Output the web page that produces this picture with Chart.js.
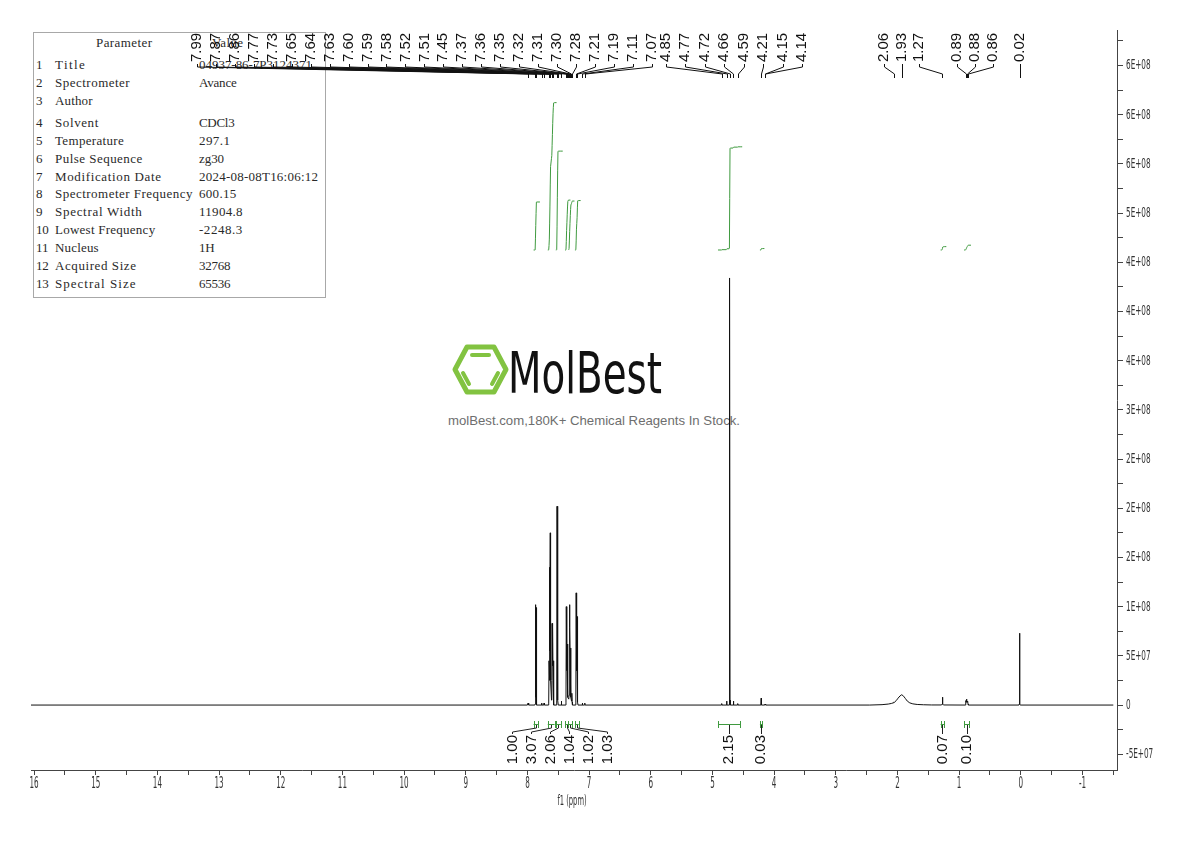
<!DOCTYPE html>
<html>
<head>
<meta charset="utf-8">
<title>1H NMR spectrum</title>
<script src="https://cdn.jsdelivr.net/npm/chart.js@4/dist/chart.umd.min.js"></script>
<style>
html,body{margin:0;padding:0;background:#ffffff;}
#wrap{position:relative;width:1190px;height:841px;overflow:hidden;background:#fff;}
#tbl{position:absolute;left:33px;top:32px;width:293px;height:266px;border:1px solid #a8a8a8;box-sizing:border-box;}
.t{position:absolute;font-family:'Liberation Serif','DejaVu Serif',serif;font-size:13px;line-height:14px;color:#2a2a2a;white-space:pre;}
#logo{position:absolute;left:0;top:0;}
#brand{position:absolute;left:508px;top:345px;font-family:'DejaVu Sans Condensed','DejaVu Sans',sans-serif;font-size:57px;line-height:57px;color:#111;white-space:nowrap;transform-origin:0 0;}
#slogan{position:absolute;left:448px;top:413px;font-family:'Liberation Sans',Arial,sans-serif;font-size:13px;line-height:16px;color:#6e6e6e;white-space:nowrap;transform-origin:0 0;}
#c{position:absolute;left:0;top:0;}
</style>
</head>
<body>
<div id="wrap">
  <div id="tbl"></div>
  <svg id="logo" width="1190" height="841">
    <polygon points="467,347 494,347 506,369.5 494,392 467,392 455,369.5" fill="none" stroke="#82c341" stroke-width="5" stroke-linejoin="round"/>
    <line x1="472" y1="355" x2="489" y2="355" stroke="#82c341" stroke-width="4" stroke-linecap="round"/>
    <line x1="463" y1="373" x2="469" y2="384" stroke="#82c341" stroke-width="4" stroke-linecap="round"/>
    <line x1="498" y1="373" x2="492" y2="384" stroke="#82c341" stroke-width="4" stroke-linecap="round"/>
  </svg>
  <div id="brand">MolBest</div>
  <div id="slogan">molBest.com,180K+ Chemical Reagents In Stock.</div>
  <canvas id="c" width="1190" height="841"></canvas>
</div>
<script>
// ---------------- DATA ----------------
// Parameter table
const paramNames = ['Title','Spectrometer','Author','Solvent','Temperature','Pulse Sequence','Modification Date','Spectrometer Frequency','Spectral Width','Lowest Frequency','Nucleus','Acquired Size','Spectral Size'];
const paramValues = ['04937-86-7P3124371','Avance','','CDCl3','297.1','zg30','2024-08-08T16:06:12','600.15','11904.8','-2248.3','1H','32768','65536'];

// Spectrum (chemical shift in ppm, intensity)
const specPpm = [
  16.05, 8.00, 7.99, 7.98,
  7.88, 7.875, 7.87, 7.865, 7.86, 7.855, 7.85,
  7.775, 7.77, 7.765,
  7.735, 7.73, 7.725,
  7.66, 7.655, 7.65, 7.645, 7.64, 7.635, 7.63, 7.625, 7.61, 7.605, 7.60, 7.595, 7.59, 7.585, 7.58, 7.575, 7.57,
  7.53, 7.525, 7.52, 7.515, 7.51, 7.505, 7.50,
  7.455, 7.45, 7.445,
  7.38, 7.375, 7.37, 7.365, 7.36, 7.355, 7.35, 7.345, 7.33, 7.325, 7.32, 7.315, 7.31, 7.305, 7.30, 7.295, 7.285, 7.28, 7.275, 7.27,
  7.22, 7.215, 7.21, 7.205, 7.20, 7.195, 7.19, 7.185, 7.18,
  7.115, 7.11, 7.105, 7.075, 7.07, 7.065,
  4.855, 4.85, 4.845, 4.775, 4.77, 4.765, 4.73, 4.725, 4.72, 4.715, 4.71, 4.665, 4.66, 4.655, 4.595, 4.59, 4.585,
  4.215, 4.21, 4.205, 4.155, 4.15, 4.145, 4.14, 4.135,
  2.45, 2.25, 2.15, 2.10, 2.07, 2.06, 2.05, 2.02, 1.99, 1.96, 1.93, 1.90, 1.87, 1.84, 1.80, 1.75, 1.68, 1.58, 1.45,
  1.285, 1.275, 1.27, 1.265, 1.255,
  0.90, 0.895, 0.89, 0.885, 0.88, 0.875, 0.87, 0.865, 0.86, 0.855, 0.85,
  0.03, 0.025, 0.02, 0.015, 0.01,
  -1.50
];
const specIntensity = [
  0, 0, 0.02e8, 0,
  0, 0.01e8, 1.02e8, 0.08e8, 0.99e8, 0.01e8, 0,
  0, 0.02e8, 0,
  0, 0.02e8, 0,
  0, 0.02e8, 0.45e8, 0.25e8, 1.40e8, 0.55e8, 1.75e8, 0.25e8, 0.05e8, 0.25e8, 0.83e8, 0.40e8, 0.80e8, 0.25e8, 0.45e8, 0.03e8, 0,
  0, 0.05e8, 2.02e8, 0.70e8, 1.71e8, 0.05e8, 0,
  0, 0.04e8, 0,
  0, 0.03e8, 1.00e8, 0.35e8, 0.64e8, 0.35e8, 0.62e8, 0.08e8, 0.06e8, 0.10e8, 1.02e8, 0.40e8, 0.79e8, 0.35e8, 0.58e8, 0.08e8, 0.04e8, 0.12e8, 0.03e8, 0,
  0, 0.03e8, 1.14e8, 0.40e8, 0.35e8, 0.40e8, 0.90e8, 0.03e8, 0,
  0, 0.02e8, 0, 0, 0.02e8, 0,
  0, 0.015e8, 0, 0, 0.04e8, 0, 0, 0.05e8, 4.34e8, 0.05e8, 0, 0, 0.04e8, 0, 0, 0.015e8, 0,
  0, 0.07e8, 0, 0, 0.01e8, 0.005e8, 0.01e8, 0,
  0, 0.004e8, 0.01e8, 0.016e8, 0.022e8, 0.03e8, 0.028e8, 0.045e8, 0.07e8, 0.092e8, 0.105e8, 0.09e8, 0.065e8, 0.04e8, 0.022e8, 0.012e8, 0.006e8, 0.003e8, 0.001e8,
  0.001e8, 0.01e8, 0.08e8, 0.01e8, 0.001e8,
  0, 0.01e8, 0.045e8, 0.03e8, 0.06e8, 0.03e8, 0.03e8, 0.03e8, 0.04e8, 0.01e8, 0,
  0, 0.01e8, 0.73e8, 0.01e8, 0,
  0
];

// Peak picking labels (ppm)
const peakLabels = [7.99, 7.87, 7.86, 7.77, 7.73, 7.65, 7.64, 7.63, 7.60, 7.59, 7.58, 7.52, 7.51, 7.45, 7.37, 7.36, 7.35, 7.32, 7.31, 7.30, 7.28, 7.21, 7.19, 7.11, 7.07,
                    4.85, 4.77, 4.72, 4.66, 4.59, 4.21, 4.15, 4.14,
                    2.06, 1.93, 1.27,
                    0.89, 0.88, 0.86,
                    0.02];

// Integrals: region start / end (ppm) and value
const intFrom   = [7.90, 7.67, 7.54, 7.39, 7.335, 7.23, 4.91, 4.23, 1.30, 0.92];
const intTo     = [7.83, 7.56, 7.46, 7.335, 7.27, 7.17, 4.55, 4.19, 1.24, 0.84];
const intValues = [1.00, 3.07, 2.06, 1.04, 1.02, 1.03, 2.15, 0.03, 0.07, 0.10];

// Axis ticks
const xTickLabels = ['16','15','14','13','12','11','10','9','8','7','6','5','4','3','2','1','0','-1'];
const xTickValues = [16,15,14,13,12,11,10,9,8,7,6,5,4,3,2,1,0,-1];
const yTickValues = [-0.5e8, 0, 0.5e8, 1.0e8, 1.5e8, 2.0e8, 2.5e8, 3.0e8, 3.5e8, 4.0e8, 4.5e8, 5.0e8, 5.5e8, 6.0e8, 6.5e8];
const yTickLabels = ['-5E+07','0','5E+07','1E+08','2E+08','2E+08','2E+08','3E+08','4E+08','4E+08','4E+08','5E+08','6E+08','6E+08','6E+08'];
const xAxisTitle = 'f1 (ppm)';

// ---------------- LAYOUT / STYLE ----------------
const X_MIN = -1.56, X_MAX = 16.05;
const Y_MIN = -0.66e8, Y_MAX = 6.86e8;
const INT_MIN = -10.8333, INT_MAX = 4.5833;   // hidden integral axis
const AXIS_FONT = "'DejaVu Sans','Liberation Sans',sans-serif";
const SANS = "'Liberation Sans',Arial,sans-serif";
const GREEN = '#3f9a3f';
const peakGroups = [
  {first:0,  last:24, anchor:24, shift:67, gap:18.95},
  {first:25, last:32, anchor:30, shift:2,  gap:19.5},
  {first:33, last:35, anchor:34, shift:0,  gap:17.5},
  {first:36, last:38, anchor:37, shift:8,  gap:18},
  {first:39, last:39, anchor:39, shift:0,  gap:0}
];

// ---------------- TABLE ----------------
(function buildTable(){
  const wrap = document.getElementById('wrap');
  const mc = document.createElement('canvas').getContext('2d');
  mc.font = "13px 'Liberation Serif','DejaVu Serif',serif";
  const ADV = 6.27;
  function put(text, left, yc){
    const s = document.createElement('div');
    s.className = 't';
    s.textContent = text;
    s.style.left = left + 'px';
    s.style.top = (yc - 7) + 'px';
    if (text.length){
      const w = mc.measureText(text).width;
      const ls = Math.max(-0.3, (text.length * ADV - w) / text.length);
      s.style.letterSpacing = ls.toFixed(2) + 'px';
    }
    wrap.insertBefore(s, document.getElementById('logo'));
  }
  put('Parameter', 96, 43);
  put('Value', 212, 43);
  const rowY = [65, 83, 101, 123, 141, 159, 177, 194, 212, 230, 248, 266, 284];
  paramNames.forEach((n, i) => {
    put(String(i + 1), 36, rowY[i]);
    put(n, 55, rowY[i]);
    put(paramValues[i], 199, rowY[i]);
  });
  const brand = document.getElementById('brand');
  brand.style.transform = 'scaleX(' + (154 / brand.getBoundingClientRect().width) + ')';
  const slogan = document.getElementById('slogan');
  slogan.style.transform = 'scaleX(' + (292 / slogan.getBoundingClientRect().width) + ')';
})();

// ---------------- HELPERS ----------------
function spread(ideal, gap){
  let clusters = ideal.map((v, i) => ({idx:[i], sum:v}));
  let changed = true;
  while (changed){
    changed = false;
    for (let c = 0; c < clusters.length - 1; c++){
      const A = clusters[c], B = clusters[c + 1];
      const aEnd = A.sum / A.idx.length + (A.idx.length - 1) * gap / 2;
      const bStart = B.sum / B.idx.length - (B.idx.length - 1) * gap / 2;
      if (bStart - aEnd < gap){
        clusters.splice(c, 2, {idx:A.idx.concat(B.idx), sum:A.sum + B.sum});
        changed = true; break;
      }
    }
  }
  const out = [];
  clusters.forEach(C => {
    const m = C.sum / C.idx.length;
    C.idx.forEach((i, j) => { out[i] = m + (j - (C.idx.length - 1) / 2) * gap; });
  });
  return out;
}

function narrowText(ctx, text, px, py, size, sx, align, baseline){
  ctx.save();
  ctx.translate(px, py);
  ctx.scale(sx, 1);
  ctx.font = size + 'px ' + AXIS_FONT;
  ctx.textAlign = align; ctx.textBaseline = baseline;
  ctx.fillText(text, 0, 0);
  ctx.restore();
}

const nmrPlugin = {
  id: 'nmr',
  afterDraw(chart){
    const ctx = chart.ctx;
    const x = chart.scales.x, y = chart.scales.y, y2 = chart.scales.y2;
    const area = chart.chartArea;
    ctx.save();

    // ---- axis tick labels (condensed) ----
    ctx.fillStyle = '#333';
    xTickValues.forEach((v, i) => narrowText(ctx, xTickLabels[i], x.getPixelForValue(v), area.bottom + 7, 15, 0.48, 'center', 'top'));
    yTickValues.forEach((v, i) => narrowText(ctx, yTickLabels[i], area.right + 9, y.getPixelForValue(v) + 0.5, 13.5, 0.54, 'left', 'middle'));
    narrowText(ctx, xAxisTitle, (area.left + area.right) / 2 - 2, 801, 13.5, 0.5, 'center', 'middle');

    // ---- integral curves (cumulative area of the spectrum) ----
    ctx.strokeStyle = GREEN; ctx.lineWidth = 1;
    intFrom.forEach((f, i) => {
      const t = intTo[i];
      const pp = [f], vv = [0];
      for (let k = 0; k < specPpm.length; k++){
        if (specPpm[k] < f && specPpm[k] > t){ pp.push(specPpm[k]); vv.push(specIntensity[k]); }
      }
      pp.push(t); vv.push(0);
      const acc = [0];
      for (let k = 1; k < pp.length; k++) acc.push(acc[k - 1] + (pp[k - 1] - pp[k]) * (vv[k - 1] + vv[k]) / 2);
      const total = acc[acc.length - 1] || 1;
      ctx.beginPath();
      pp.forEach((p, k) => {
        const px = x.getPixelForValue(p), py = y2.getPixelForValue(intValues[i] * acc[k] / total);
        if (k) ctx.lineTo(px, py); else ctx.moveTo(px, py);
      });
      ctx.lineTo(x.getPixelForValue(t) + 2, y2.getPixelForValue(intValues[i]));
      ctx.stroke();
    });

    // ---- integral brackets, connectors, labels ----
    const centers = intFrom.map((f, i) => (x.getPixelForValue(f) + x.getPixelForValue(intTo[i])) / 2);
    const ilx = spread(centers, 19);
    const yb = 724;
    intFrom.forEach((f, i) => {
      const x1 = x.getPixelForValue(f), x2 = x.getPixelForValue(intTo[i]);
      ctx.strokeStyle = GREEN; ctx.lineWidth = 1;
      ctx.beginPath();
      ctx.moveTo(x1, yb + 0.5); ctx.lineTo(x2, yb + 0.5);
      ctx.moveTo(Math.round(x1) + 0.5, yb - 3); ctx.lineTo(Math.round(x1) + 0.5, yb + 4);
      ctx.moveTo(Math.round(x2) + 0.5, yb - 3); ctx.lineTo(Math.round(x2) + 0.5, yb + 4);
      ctx.stroke();
      const cx = Math.round(centers[i]) + 0.5, lx = Math.round(ilx[i]) + 0.5;
      ctx.strokeStyle = '#222';
      ctx.beginPath();
      ctx.moveTo(cx, yb + 1); ctx.lineTo(cx, yb + 4); ctx.lineTo(lx, yb + 8); ctx.lineTo(lx, yb + 10);
      ctx.stroke();
      ctx.save();
      ctx.translate(ilx[i], yb + 11);
      ctx.rotate(-Math.PI / 2);
      ctx.fillStyle = '#111';
      ctx.font = '15px ' + SANS;
      ctx.textAlign = 'right'; ctx.textBaseline = 'middle';
      ctx.fillText(intValues[i].toFixed(2), 0, 0);
      ctx.restore();
    });

    // ---- peak labels ----
    const plx = [];
    peakGroups.forEach(g => {
      const ax = x.getPixelForValue(peakLabels[g.anchor]) + g.shift;
      for (let i = g.first; i <= g.last; i++) plx[i] = ax + (i - g.anchor) * g.gap;
    });
    ctx.strokeStyle = '#111'; ctx.lineWidth = 1;
    peakLabels.forEach((v, i) => {
      const lx = Math.round(plx[i]) + 0.5;
      const px = Math.round(x.getPixelForValue(v)) + 0.5;
      ctx.beginPath();
      ctx.moveTo(lx, 64); ctx.lineTo(lx, 67); ctx.lineTo(px, 74); ctx.lineTo(px, 78);
      ctx.stroke();
      ctx.save();
      ctx.translate(plx[i], 62);
      ctx.rotate(-Math.PI / 2);
      ctx.fillStyle = '#111';
      ctx.font = '15px ' + SANS;
      ctx.textAlign = 'left'; ctx.textBaseline = 'middle';
      ctx.fillText(v.toFixed(2), 0, 0);
      ctx.restore();
    });
    ctx.restore();
  }
};

const xTicksAll = [];
for (let k = 32; k >= -3; k--) xTicksAll.push(k / 2);
const yTicksAll = [];
for (let k = -2; k <= 27; k++) yTicksAll.push(k * 0.25e8);

new Chart(document.getElementById('c'), {
  type: 'line',
  data: {
    datasets: [{
      data: specPpm.map((p, i) => ({x: p, y: specIntensity[i]})),
      borderColor: '#111',
      borderWidth: 1,
      pointRadius: 0,
      tension: 0,
      fill: false,
      xAxisID: 'x',
      yAxisID: 'y'
    }]
  },
  options: {
    responsive: false,
    animation: false,
    devicePixelRatio: 1,
    layout: {padding: {left: 31, top: 30, right: 0, bottom: 0}},
    plugins: {legend: {display: false}, tooltip: {enabled: false}, title: {display: false}},
    scales: {
      x: {
        type: 'linear', reverse: true, min: X_MIN, max: X_MAX, position: 'bottom',
        afterBuildTicks: s => { s.ticks = xTicksAll.map(v => ({value: v})); },
        afterFit: s => { s.height = 71; },
        ticks: {display: false, autoSkip: false},
        grid: {drawOnChartArea: false, drawTicks: true, tickLength: 5, color: '#444', lineWidth: 1},
        border: {display: true, color: '#444', width: 1}
      },
      y: {
        type: 'linear', position: 'right', min: Y_MIN, max: Y_MAX,
        afterBuildTicks: s => { s.ticks = yTicksAll.map(v => ({value: v})); },
        afterFit: s => { s.width = 73; },
        ticks: {display: false, autoSkip: false},
        grid: {drawOnChartArea: false, drawTicks: true, tickLength: 6, color: '#444', lineWidth: 1},
        border: {display: true, color: '#444', width: 1}
      },
      y2: {type: 'linear', display: false, min: INT_MIN, max: INT_MAX}
    }
  },
  plugins: [nmrPlugin]
});
</script>
</body>
</html>
